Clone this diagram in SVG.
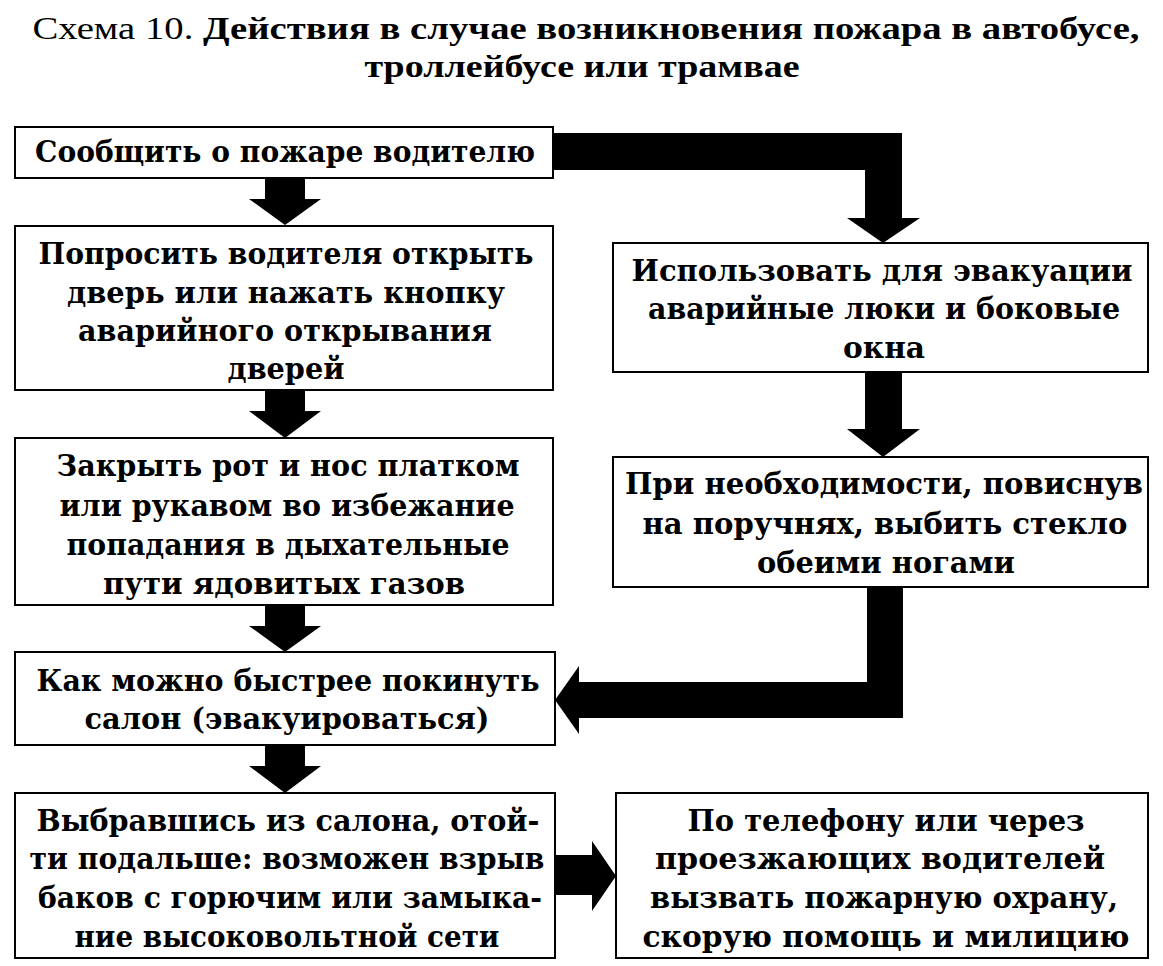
<svg xmlns="http://www.w3.org/2000/svg" width="1163" height="966" viewBox="0 0 1163 966">
<style>
.bg{fill:#fff}
.box{fill:#fff;stroke:#000;stroke-width:2}
.t{font-family:"DejaVu Serif","Liberation Serif",serif;font-weight:bold;font-size:30px;fill:#000;text-anchor:middle}
.title{font-family:"Liberation Serif","DejaVu Serif",serif;font-weight:bold;font-size:32px;fill:#000;text-anchor:middle}
.arr{fill:#000}
</style>
<rect class="bg" x="0" y="0" width="1163" height="966"/>
<g id="title">
<text class="title" x="586" y="39" textLength="1107" lengthAdjust="spacingAndGlyphs"><tspan font-weight="normal">Схема 10.</tspan> Действия в случае возникновения пожара в автобусе,</text>
<text class="title" x="582" y="77" textLength="435" lengthAdjust="spacingAndGlyphs">троллейбусе или трамвае</text>
</g>
<g id="connectors">
<polygon class="arr" points="265,178 305,178 305,199 321,199 285,225 249,199 265,199"/>
<polygon class="arr" points="265,390 305,390 305,411 321,411 285,438 249,411 265,411"/>
<polygon class="arr" points="265,605 305,605 305,626 321,626 285,652 249,626 265,626"/>
<polygon class="arr" points="265,745 305,745 305,766 321,766 285,793 249,766 265,766"/>
<polygon class="arr" points="552,133 902,133 902,218 920,218 883,243 847,218 865,218 865,170 552,170"/>
<polygon class="arr" points="865,372 902,372 902,429 920,429 883,457 847,429 865,429"/>
<polygon class="arr" points="867,587 903,587 903,718 579,718 579,734 555,700 579,666 579,682 867,682"/>
<polygon class="arr" points="554,855 592,855 592,841 616,876 592,911 592,895 554,895"/>
</g>
<g id="n1">
<rect class="box" x="15" y="127" width="538" height="51"/>
<text class="t" x="285" y="162" textLength="500" lengthAdjust="spacingAndGlyphs">Сообщить о пожаре водителю</text>
</g>
<g id="n2">
<rect class="box" x="15" y="226" width="538" height="164"/>
<text class="t" x="286" y="264" textLength="495" lengthAdjust="spacingAndGlyphs">Попросить водителя открыть</text>
<text class="t" x="286" y="303" textLength="438" lengthAdjust="spacingAndGlyphs">дверь или нажать кнопку</text>
<text class="t" x="285" y="341" textLength="414" lengthAdjust="spacingAndGlyphs">аварийного открывания</text>
<text class="t" x="286" y="379" textLength="117" lengthAdjust="spacingAndGlyphs">дверей</text>
</g>
<g id="n3">
<rect class="box" x="15" y="438" width="538" height="167"/>
<text class="t" x="288" y="476" textLength="463" lengthAdjust="spacingAndGlyphs">Закрыть рот и нос платком</text>
<text class="t" x="287" y="516" textLength="455" lengthAdjust="spacingAndGlyphs">или рукавом во избежание</text>
<text class="t" x="288" y="555" textLength="443" lengthAdjust="spacingAndGlyphs">попадания в дыхательные</text>
<text class="t" x="284" y="594" textLength="362" lengthAdjust="spacingAndGlyphs">пути ядовитых газов</text>
</g>
<g id="n4">
<rect class="box" x="15" y="652" width="540" height="93"/>
<text class="t" x="288" y="691" textLength="503" lengthAdjust="spacingAndGlyphs">Как можно быстрее покинуть</text>
<text class="t" x="287" y="729" textLength="405" lengthAdjust="spacingAndGlyphs">салон (эвакуироваться)</text>
</g>
<g id="n5">
<rect class="box" x="15" y="793" width="540" height="165"/>
<text class="t" x="288" y="831" textLength="503" lengthAdjust="spacingAndGlyphs">Выбравшись из салона, отой-</text>
<text class="t" x="287" y="869" textLength="515" lengthAdjust="spacingAndGlyphs">ти подальше: возможен взрыв</text>
<text class="t" x="290" y="908" textLength="504" lengthAdjust="spacingAndGlyphs">баков с горючим или замыка-</text>
<text class="t" x="287" y="947" textLength="425" lengthAdjust="spacingAndGlyphs">ние высоковольтной сети</text>
</g>
<g id="n6">
<rect class="box" x="613" y="243" width="535" height="129"/>
<text class="t" x="882" y="281" textLength="501" lengthAdjust="spacingAndGlyphs">Использовать для эвакуации</text>
<text class="t" x="884" y="319" textLength="472" lengthAdjust="spacingAndGlyphs">аварийные люки и боковые</text>
<text class="t" x="884" y="358" textLength="82" lengthAdjust="spacingAndGlyphs">окна</text>
</g>
<g id="n7">
<rect class="box" x="613" y="457" width="535" height="130"/>
<text class="t" x="884" y="494" textLength="518" lengthAdjust="spacingAndGlyphs">При необходимости, повиснув</text>
<text class="t" x="885" y="534" textLength="485" lengthAdjust="spacingAndGlyphs">на поручнях, выбить стекло</text>
<text class="t" x="886" y="573" textLength="258" lengthAdjust="spacingAndGlyphs">обеими ногами</text>
</g>
<g id="n8">
<rect class="box" x="616" y="793" width="532" height="165"/>
<text class="t" x="886" y="831" textLength="397" lengthAdjust="spacingAndGlyphs">По телефону или через</text>
<text class="t" x="880" y="869" textLength="450" lengthAdjust="spacingAndGlyphs">проезжающих водителей</text>
<text class="t" x="884" y="908" textLength="468" lengthAdjust="spacingAndGlyphs">вызвать пожарную охрану,</text>
<text class="t" x="886" y="947" textLength="487" lengthAdjust="spacingAndGlyphs">скорую помощь и милицию</text>
</g>
</svg>
